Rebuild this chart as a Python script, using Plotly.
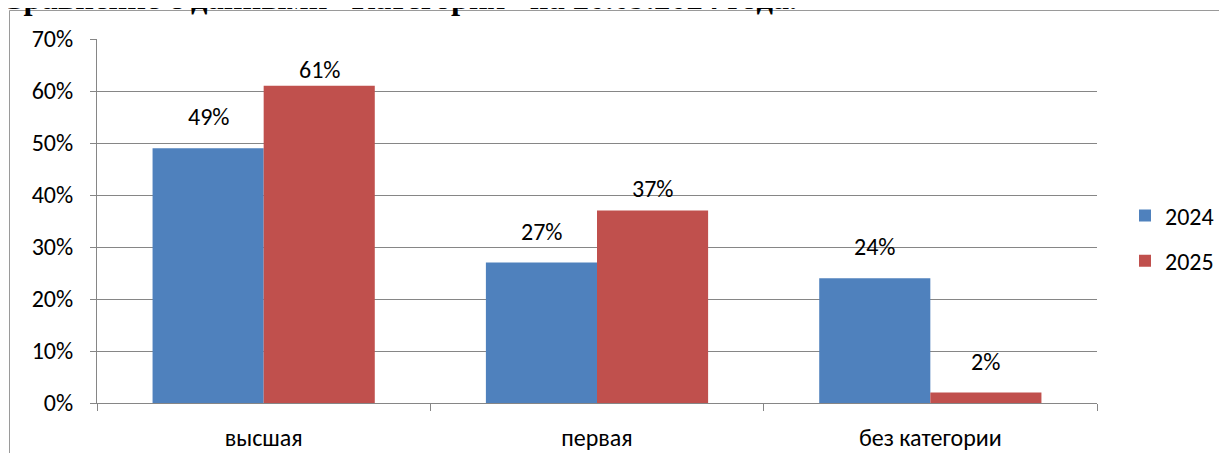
import plotly.graph_objects as go

categories = ["высшая", "первая", "без категории"]
series_names = ["2024", "2025"]
values_2024 = [49, 27, 24]
values_2025 = [61, 37, 2]
y_ticks = [0, 10, 20, 30, 40, 50, 60, 70]
title_text = "Сравнение с данными «Категория» на 20.09.2024 года."

colors = ["#4F81BD", "#C0504D"]
label_lift = [[15, 15, 15], [0, 6, 15]]  # style: gap (px) between bar top and label

# page body has an 8px margin; figure coordinates are page coordinates minus 8
OFF = 8
W, H = 1227 - 2 * OFF, 461 - 2 * OFF
L, R, T, B = 97 - OFF, 1097 - OFF, 39 - OFF, 403 - OFF
font_family = "Carlito, Roboto, 'Noto Sans', sans-serif"

fig = go.Figure()
all_vals = [values_2024, values_2025]
for k, (name, vals) in enumerate(zip(series_names, all_vals)):
    fig.add_trace(go.Bar(
        x=categories, y=vals, name=name, marker_color=colors[k],
        marker_line_width=0, legendgroup=name,
    ))

bargap = 1 / 3
off = (1 - bargap) / 4
for k, vals in enumerate(all_vals):
    for i, v in enumerate(vals):
        fig.add_annotation(
            x=i + (-off if k == 0 else off), y=v, xref="x", yref="y",
            text=f"{v}%", showarrow=False, yanchor="bottom",
            yshift=label_lift[k][i], font=dict(size=24, color="#000000", family=font_family),
        )

def py(pix):
    # pix in page pixels
    return (B - (pix - OFF)) / (B - T)

def px(pix):
    return ((pix - OFF) - L) / (R - L)

# outer chart frame
fig.add_shape(type="rect", xref="paper", yref="paper",
              x0=px(9.5), x1=px(1300), y0=py(10.5), y1=py(520),
              line=dict(color="#9a9a9a", width=1), layer="below")

# document heading (cut at top)
fig.add_annotation(xref="paper", yref="paper", x=px(-2), y=py(18), xanchor="left", yanchor="bottom",
                   text="<b>" + title_text + "</b>", showarrow=False,
                   font=dict(size=32.5, family="'Liberation Serif', 'Times New Roman', serif", color="#000000"))

fig.update_layout(
    width=W, height=H,
    margin=dict(l=L, r=W - R, t=T, b=H - B, pad=0, autoexpand=False),
    paper_bgcolor="white", plot_bgcolor="white",
    barmode="group", bargap=bargap, bargroupgap=0,
    font=dict(family=font_family, size=24, color="#000000"),
    showlegend=True,
    legend=dict(x=px(1125), y=py(238.5), xanchor="left", yanchor="middle",
                font=dict(size=24), traceorder="grouped", tracegroupgap=11,
                bgcolor="rgba(0,0,0,0)", itemwidth=30),
    xaxis=dict(showline=True, linecolor="#868686", linewidth=1, ticks="outside",
               ticklen=7, tickcolor="#868686", tickson="boundaries", showgrid=False,
               ticklabelstandoff=13, fixedrange=True, automargin=False),
    yaxis=dict(range=[0, 70], tickvals=y_ticks, ticktext=[f"{v}%" for v in y_ticks],
               showline=True, automargin=False,
               linecolor="#868686", linewidth=1, ticks="outside", ticklen=6,
               tickcolor="#868686", showgrid=True, gridcolor="#868686", gridwidth=1,
               zeroline=False, ticklabelstandoff=12),
)

fig.write_html("out.html")
